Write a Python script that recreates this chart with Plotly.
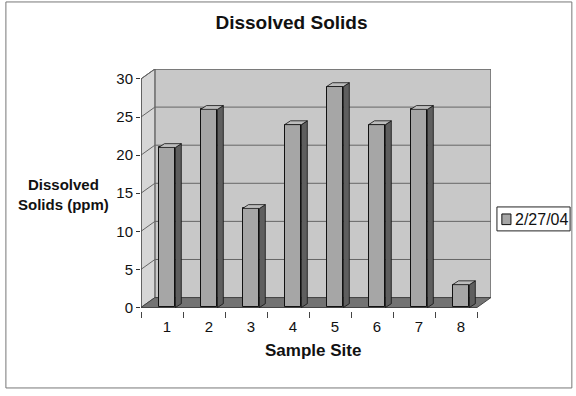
import plotly.graph_objects as go

# ---- data ----
sites = [1, 2, 3, 4, 5, 6, 7, 8]
site_labels = ["1", "2", "3", "4", "5", "6", "7", "8"]
solids_ppm = [21, 26, 13, 24, 29, 24, 26, 3]
y_ticks = [0, 5, 10, 15, 20, 25, 30]
series_name = "2/27/04"

FONT = "Arial, Liberation Sans, sans-serif"

# 3D look parameters (data units)
WALL_DX, WALL_DY = 0.33, 1.3      # back wall depth offset
BAR_W = 0.4
BAR_DX, BAR_DY = 0.14, 0.5        # bar depth offset
X0, X1 = 0.38, 8.38
YMAX = 30

fig = go.Figure()

# bar side faces and top faces (computed from values)
side_x, side_y, top_x, top_y = [], [], [], []
for s, v in zip(sites, solids_ppm):
    r = s + BAR_W / 2
    l = s - BAR_W / 2
    side_x += [r, r + BAR_DX, r + BAR_DX, r, r, None]
    side_y += [0, BAR_DY, v + BAR_DY, v, 0, None]
    top_x += [l, r, r + BAR_DX, l + BAR_DX, l, None]
    top_y += [v, v, v + BAR_DY, v + BAR_DY, v, None]

# front faces
fig.add_trace(go.Bar(
    x=sites, y=solids_ppm, width=BAR_W, name=series_name,
    marker=dict(color="#a6a6a6", line=dict(color="#111111", width=1)),
    showlegend=False,
))
fig.add_trace(go.Scatter(
    x=side_x, y=side_y, mode="lines", fill="toself",
    fillcolor="#5e5e5e", line=dict(color="#111111", width=0.8),
    showlegend=False, hoverinfo="skip",
))
fig.add_trace(go.Scatter(
    x=top_x, y=top_y, mode="lines", fill="toself",
    fillcolor="#bdbdbd", line=dict(color="#111111", width=0.8),
    showlegend=False, hoverinfo="skip",
))
# front value axis line
fig.add_trace(go.Scatter(
    x=[X0, X0], y=[0, YMAX], mode="lines",
    line=dict(color="#333333", width=1), showlegend=False, hoverinfo="skip",
))

shapes = []
# back wall
shapes.append(dict(type="rect", xref="x", yref="y", layer="below",
                   x0=X0 + WALL_DX, x1=X1 + WALL_DX, y0=WALL_DY, y1=YMAX + WALL_DY,
                   fillcolor="#c8c8c8", line=dict(color="#555555", width=1)))
# left side wall
shapes.append(dict(type="path", xref="x", yref="y", layer="below",
                   path=f"M {X0},0 L {X0+WALL_DX},{WALL_DY} L {X0+WALL_DX},{YMAX+WALL_DY} L {X0},{YMAX} Z",
                   fillcolor="#d6d6d6", line=dict(color="#555555", width=1)))
# floor
shapes.append(dict(type="path", xref="x", yref="y", layer="below",
                   path=f"M {X0},0 L {X1},0 L {X1+WALL_DX},{WALL_DY} L {X0+WALL_DX},{WALL_DY} Z",
                   fillcolor="#737373", line=dict(color="#444444", width=1)))
# gridlines on back + side wall
for v in y_ticks[1:]:
    shapes.append(dict(type="path", xref="x", yref="y", layer="below",
                       path=f"M {X0},{v} L {X0+WALL_DX},{v+WALL_DY} L {X1+WALL_DX},{v+WALL_DY}",
                       line=dict(color="#666666", width=1)))
# outer chart border
shapes.append(dict(type="rect", xref="paper", yref="paper",
                   x0=-0.386, x1=1.231, y0=-0.318, y1=1.277,
                   line=dict(color="#777777", width=1)))
# legend box and key
shapes.append(dict(type="rect", xref="paper", yref="paper",
                   x0=1.017, x1=1.226, y0=0.331, y1=0.430,
                   fillcolor="white", line=dict(color="#222222", width=1)))
shapes.append(dict(type="rect", xref="paper", yref="paper",
                   x0=1.031, x1=1.057, y0=0.357, y1=0.401,
                   fillcolor="#a6a6a6", line=dict(color="#111111", width=1)))

fig.update_layout(
    width=576, height=396,
    margin=dict(l=141, r=85, t=69, b=85, autoexpand=False),
    paper_bgcolor="white", plot_bgcolor="white",
    font=dict(family=FONT, color="#111111", size=14),
    title=dict(text="<b>Dissolved Solids</b>", x=0.506, xanchor="center",
               y=0.944, yanchor="middle", font=dict(size=19)),
    bargap=0,
    shapes=shapes,
    showlegend=False,
    annotations=[
        dict(text="<b>Dissolved<br>Solids (ppm)</b>", xref="paper", yref="paper",
             x=-0.221, y=0.483, xanchor="center", yanchor="middle",
             showarrow=False, font=dict(size=15), align="center"),
        dict(text=series_name, xref="paper", yref="paper",
             x=1.064, y=0.380, xanchor="left", yanchor="middle",
             showarrow=False, font=dict(size=16)),
        dict(text="<b>Sample Site</b>", xref="paper", yref="paper",
             x=0.491, y=-0.165, xanchor="center", yanchor="middle",
             showarrow=False, font=dict(size=17)),
    ],
    xaxis=dict(
        range=[X0, X0 + 350 / 42], tickvals=sites, ticktext=site_labels,
        ticks="", showgrid=False, zeroline=False, showline=False,
        tickfont=dict(size=15), automargin=False, ticklabelstandoff=5,
        minor=dict(tickvals=[x + X0 for x in [0] + sites], ticks="outside",
                   ticklen=6, tickcolor="#444444", showgrid=False),
    ),
    yaxis=dict(
        range=[-0.46, 31.3], tickvals=y_ticks, ticks="outside", ticklen=4,
        tickcolor="#333333", showgrid=False, zeroline=False, showline=False,
        tickfont=dict(size=15), automargin=False,
    ),
)

fig.write_html("out.html", config={"displayModeBar": False},
               post_script="document.body.style.margin='0';document.body.style.overflow='hidden';")
